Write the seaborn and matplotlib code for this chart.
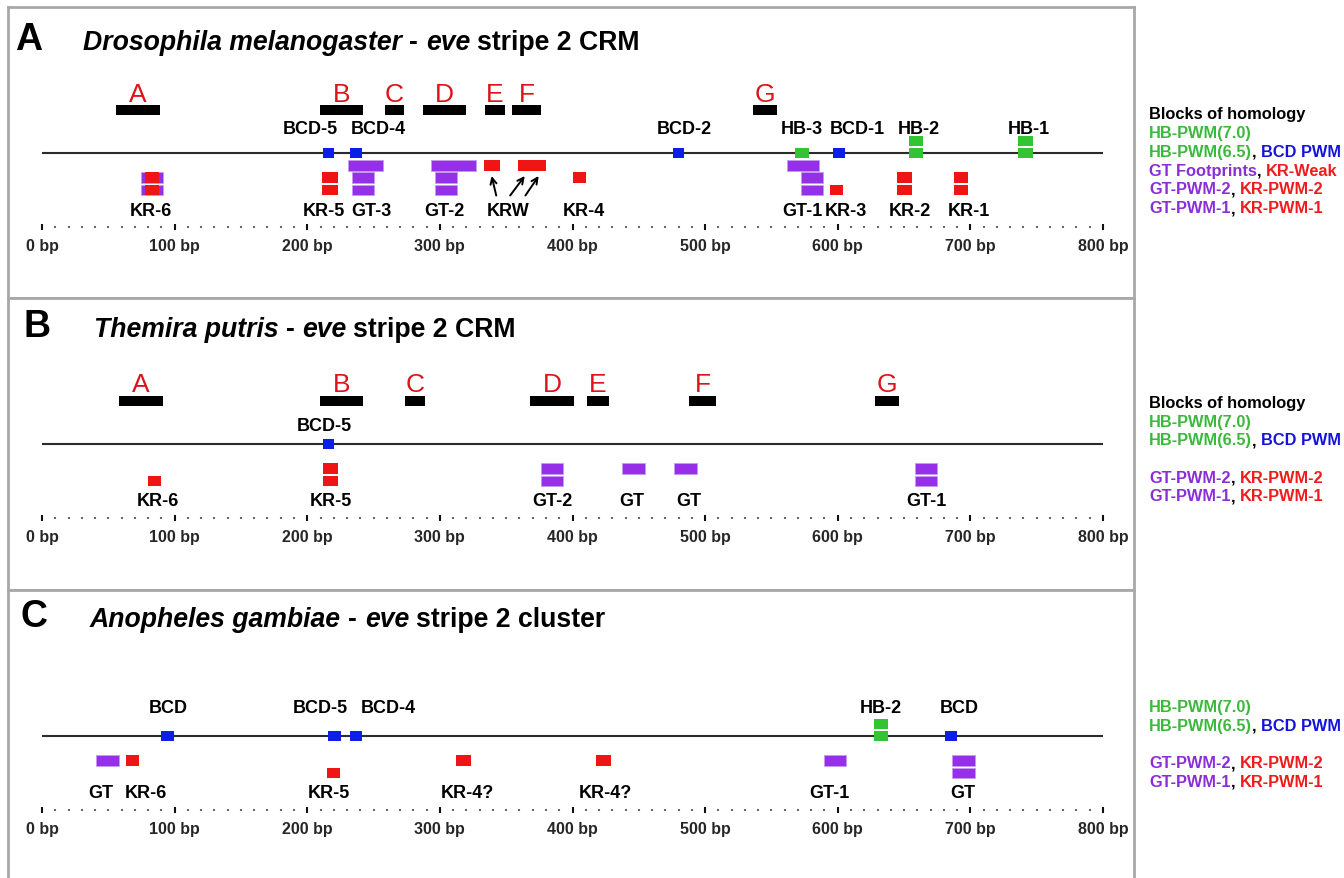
import matplotlib
matplotlib.use("Agg")
import matplotlib.pyplot as plt
import matplotlib.transforms as mtransforms
import seaborn as sns

# ---------------- data (bp positions) ----------------
seq_len = 800
tick_bp = [0, 100, 200, 300, 400, 500, 600, 700, 800]
tick_labels = ["0 bp", "100 bp", "200 bp", "300 bp", "400 bp",
               "500 bp", "600 bp", "700 bp", "800 bp"]
block_names = ["A", "B", "C", "D", "E", "F", "G"]

# A: Drosophila melanogaster
a_blocks = [(56, 89), (209.5, 242), (258.5, 273), (287, 320), (334, 349), (354.5, 376), (536, 554)]
a_bcd = [(212, 220.5), (232, 241), (475.5, 484), (596.5, 605.5)]
a_hb65 = [(568, 578), (653.5, 664.5), (736, 747)]
a_hb70 = [(653.5, 664.5), (736, 747)]
a_gt_fp = [(230.5, 257), (293.5, 327), (562, 586)]
a_gt_pwm2 = [(74.5, 91), (233.5, 250), (296, 313), (572, 589)]
a_gt_pwm1 = [(74.5, 91), (233.5, 250), (296, 313), (572, 589)]
a_kr_weak = [(333, 345), (359, 369), (369, 380)]
a_kr_pwm2 = [(78, 88), (211, 223), (400.5, 410), (644.5, 656), (687.5, 698.5)]
a_kr_pwm1 = [(78, 88), (211, 223), (594, 604), (644.5, 656), (687.5, 698.5)]
a_top_labels = ["BCD-5", "BCD-4", "BCD-2", "HB-3", "BCD-1", "HB-2", "HB-1"]
a_top_label_bp = [202, 253.5, 484, 573, 615, 661, 744]
a_bottom_labels = ["KR-6", "KR-5", "GT-3", "GT-2", "KRW", "KR-4", "GT-1", "KR-3", "KR-2", "KR-1"]
a_bottom_label_bp = [82, 212.5, 248.5, 303.5, 351.5, 408.5, 573, 606, 654.5, 699]

# B: Themira putris
b_blocks = [(58, 91), (209.5, 242), (273.5, 289), (368, 401), (411, 427.5), (488, 508.5), (628, 646)]
b_bcd = [(211.5, 220.5)]
b_gt_pwm2 = [(376, 393), (437.5, 455), (476.5, 493.5), (658, 675)]
b_gt_pwm1 = [(376, 393), (658, 675)]
b_kr_pwm2 = [(211.5, 223)]
b_kr_pwm1 = [(80, 90), (211.5, 223)]
b_top_labels = ["BCD-5"]
b_top_label_bp = [212.5]
b_bottom_labels = ["KR-6", "KR-5", "GT-2", "GT", "GT", "GT-1"]
b_bottom_label_bp = [87, 218, 384.5, 444.5, 488, 667]

# C: Anopheles gambiae
c_bcd = [(90, 99.5), (216, 225.5), (232, 241), (681, 690)]
c_hb65 = [(627.5, 638)]
c_hb70 = [(627.5, 638)]
c_gt_pwm2 = [(41, 58), (589.5, 606.5), (686.5, 703.5)]
c_gt_pwm1 = [(686.5, 703.5)]
c_kr_pwm2 = [(63, 73), (312.5, 323.5), (418, 429)]
c_kr_pwm1 = [(215, 225)]
c_top_labels = ["BCD", "BCD-5", "BCD-4", "HB-2", "BCD"]
c_top_label_bp = [95, 210, 261, 632.5, 691.5]
c_bottom_labels = ["GT", "KR-6", "KR-5", "KR-4?", "KR-4?", "GT-1", "GT"]
c_bottom_label_bp = [44, 78, 216.5, 320.5, 425, 593.5, 694.5]

# ---------------- style ----------------
W, H = 1344, 879
sns.set_theme(style="white")
plt.rcParams["font.family"] = ["Liberation Sans", "DejaVu Sans"]

RED = "#f01515"
LETTER_RED = "#dc141a"
PURPLE = "#9630e8"
PURPLE_EDGE = "#c49af0"
GREEN = "#33c433"
BLUE = "#0c1ee8"
T_GREEN = "#3cb83c"
T_BLUE = "#1414d8"
T_PURPLE = "#8a2ed6"
T_RED = "#ee1c1c"
FRAME = "#a8a8a8"

L = 146            # sequence line, px below panel top
ROWS = {1: L + 12.5, 2: L + 24.5, 3: L + 37}
BOX_H = 10.5

fig = plt.figure(figsize=(W / 100, H / 100), dpi=100)


def px_axes(x0, y0, x1, y1):
    return fig.add_axes([x0 / W, 1 - y1 / H, (x1 - x0) / W, (y1 - y0) / H])


def bars(ax, sites, y, color, edge=None, h=BOX_H, z=2):
    if not sites:
        return
    ax.barh(y=y, width=[e - s for s, e in sites], left=[s for s, e in sites],
            height=h, color=color, edgecolor=edge or color,
            linewidth=0.6 if edge else 0, zorder=z)


def chain(ax, x, y, pieces, transform, size, gap_pts):
    t = ax.text(x, y, pieces[0][0], color=pieces[0][1], transform=transform,
                ha="left", va="baseline", fontsize=size, fontweight="bold",
                fontstyle=pieces[0][2] if len(pieces[0]) > 2 else "normal")
    for p in pieces[1:]:
        txt, col = p[0], p[1]
        style = p[2] if len(p) > 2 else "normal"
        sp = p[3] if len(p) > 3 else 1
        t = ax.annotate(txt, xy=(1, 0), xycoords=t, xytext=(gap_pts * sp, 0),
                        textcoords="offset points", ha="left", va="bottom",
                        color=col, fontsize=size, fontweight="bold", fontstyle=style)
    return t


panels = [
    dict(top=8, bottom=299, letter="A", letter_x=15, title_x=83, base=42,
         title=[("Drosophila melanogaster", "black", "italic"), ("-", "black", "normal"),
                ("eve", "black", "italic"), ("stripe 2 CRM", "black", "normal")],
         blocks=a_blocks, bcd=a_bcd, hb65=a_hb65, hb70=a_hb70,
         gt={1: a_gt_fp, 2: a_gt_pwm2, 3: a_gt_pwm1},
         kr={1: a_kr_weak, 2: a_kr_pwm2, 3: a_kr_pwm1},
         top_labels=a_top_labels, top_label_bp=a_top_label_bp, top_base=L - 20,
         bottom_labels=a_bottom_labels, bottom_label_bp=a_bottom_label_bp,
         legend_y=107, legend=["blocks", "hb70", "hb65", "fp", "pwm2", "pwm1"]),
    dict(top=299, bottom=591, letter="B", letter_x=23.5, title_x=93.5, base=38,
         title=[("Themira putris", "black", "italic"), ("-", "black", "normal"),
                ("eve", "black", "italic"), ("stripe 2 CRM", "black", "normal")],
         blocks=b_blocks, bcd=b_bcd, hb65=[], hb70=[],
         gt={1: [], 2: b_gt_pwm2, 3: b_gt_pwm1},
         kr={1: [], 2: b_kr_pwm2, 3: b_kr_pwm1},
         top_labels=b_top_labels, top_label_bp=b_top_label_bp, top_base=L - 13.5,
         bottom_labels=b_bottom_labels, bottom_label_bp=b_bottom_label_bp,
         legend_y=104.5, legend=["blocks", "hb70", "hb65", None, "pwm2", "pwm1"]),
    dict(top=591, bottom=895, letter="C", letter_x=21, title_x=90, base=36,
         title=[("Anopheles gambiae", "black", "italic"), ("-", "black", "normal"),
                ("eve", "black", "italic"), ("stripe 2 cluster", "black", "normal")],
         blocks=[], bcd=c_bcd, hb65=c_hb65, hb70=c_hb70,
         gt={1: [], 2: c_gt_pwm2, 3: c_gt_pwm1},
         kr={1: [], 2: c_kr_pwm2, 3: c_kr_pwm1},
         top_labels=c_top_labels, top_label_bp=c_top_label_bp, top_base=L - 24,
         bottom_labels=c_bottom_labels, bottom_label_bp=c_bottom_label_bp,
         legend_y=98, legend=[None, "hb70", "hb65", None, "pwm2", "pwm1"]),
]

legend_text = {
    "blocks": [("Blocks of homology", "black")],
    "hb70": [("HB-PWM(7.0)", T_GREEN)],
    "hb65": [("HB-PWM(6.5)", T_GREEN), (",", "black", "normal", 0), ("BCD PWM", T_BLUE)],
    "fp": [("GT Footprints", T_PURPLE), (",", "black", "normal", 0), ("KR-Weak", T_RED)],
    "pwm2": [("GT-PWM-2", T_PURPLE), (",", "black", "normal", 0), ("KR-PWM-2", T_RED)],
    "pwm1": [("GT-PWM-1", T_PURPLE), (",", "black", "normal", 0), ("KR-PWM-1", T_RED)],
}

panel_axes = []
for p in panels:
    top = p["top"]
    # frame
    fr = px_axes(8, top, 1134, p["bottom"])
    fr.set_xticks([])
    fr.set_yticks([])
    fr.set_facecolor("white")
    for s in fr.spines.values():
        s.set_color(FRAME)
        s.set_linewidth(2.0)

    ax = px_axes(42, top, 1103, top + 220)
    ax.patch.set_alpha(0)
    panel_axes.append(ax)
    fig_x = mtransforms.blended_transform_factory(fig.transFigure, ax.transData)

    # sequence line
    sns.lineplot(x=[0, seq_len], y=[L, L], color="#2b2b2b", linewidth=1.5, ax=ax, zorder=1)

    # homology blocks + letters
    bars(ax, p["blocks"], L - 43, "black", h=10.5)
    for name, (s, e) in zip(block_names, p["blocks"]):
        ax.text((s + e) / 2, L - 52.5, name, ha="center", va="baseline",
                fontsize=19, color=LETTER_RED)

    # activator sites on the line
    bars(ax, p["hb65"], L, GREEN, h=10, z=3)
    bars(ax, p["hb70"], L - 12, GREEN, h=10, z=3)
    bars(ax, p["bcd"], L, BLUE, h=10, z=3)

    # repressor sites below
    for r in (1, 2, 3):
        bars(ax, p["gt"][r], ROWS[r], PURPLE, edge=PURPLE_EDGE)
        bars(ax, p["kr"][r], ROWS[r], RED, z=3)

    for txt, x in zip(p["top_labels"], p["top_label_bp"]):
        ax.text(x, p["top_base"], txt, ha="center", va="baseline",
                fontsize=13, fontweight="bold", color="black")
    for txt, x in zip(p["bottom_labels"], p["bottom_label_bp"]):
        ax.text(x, L + 61.5, txt, ha="center", va="baseline",
                fontsize=13, fontweight="bold", color="black")

    # title
    ax.text(p["letter_x"] / W, p["base"], p["letter"], transform=fig_x,
            ha="left", va="baseline", fontsize=27, fontweight="bold", color="black")
    chain(ax, p["title_x"] / W, p["base"], p["title"], fig_x, 19.2, 19.2 * 0.278)

    # legend
    for i, key in enumerate(p["legend"]):
        if key is None:
            continue
        chain(ax, 1149 / W, p["legend_y"] + i * 18.7 + 4.5, legend_text[key], fig_x,
              11.8, 11.8 * 0.278)

    # bp axis
    ax.set_xlim(0, seq_len)
    ax.set_ylim(220, 0)
    ax.set_yticks([])
    ax.set_xticks(tick_bp)
    ax.set_xticklabels(tick_labels, fontweight="bold", fontsize=11.5)
    ax.set_xticks(list(range(0, seq_len + 1, 10)), minor=True)
    ax.tick_params(axis="x", which="major", direction="inout", length=5, width=1.5,
                   color="#111111", pad=5.5, bottom=True)
    ax.tick_params(axis="x", which="minor", direction="inout", length=2, width=1.5,
                   color="#666666", bottom=True)
    ax.set_xlabel("")
    ax.set_ylabel("")
    for s in ax.spines.values():
        s.set_visible(False)

# KRW arrows (panel A)
axA = panel_axes[0]
krw_x = a_bottom_label_bp[a_bottom_labels.index("KRW")]
for (s, e), dx in zip(a_kr_weak, (-9, 1.5, 13)):
    axA.annotate("", xy=((s + e) / 2, L + 23), xytext=(krw_x + dx, L + 42.5),
                 arrowprops=dict(arrowstyle="->", lw=1.4, color="black",
                                 shrinkA=0, shrinkB=0, mutation_scale=11))

fig.savefig("out.png", dpi=100)
